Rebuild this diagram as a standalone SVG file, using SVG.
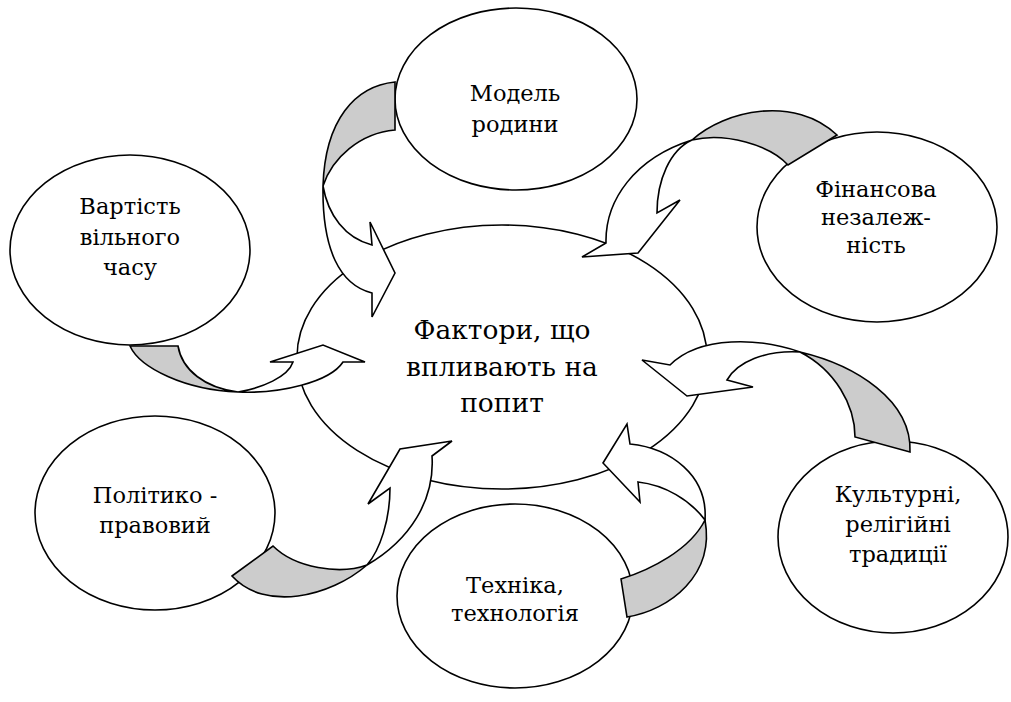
<svg xmlns="http://www.w3.org/2000/svg" width="1011" height="702" viewBox="0 0 1011 702">
<style>
.node ellipse{fill:#fff;stroke:#000;stroke-width:1.6}
text{font-family:'DejaVu Serif','Liberation Serif',serif;font-size:22.5px;fill:#000;text-anchor:middle}
.tc{font-size:26.5px}
.back{fill:#cccccc;stroke:#000;stroke-width:1.6;stroke-linejoin:miter}
.front{fill:#fff;stroke:#000;stroke-width:1.6;stroke-linejoin:miter}
</style>
<rect width="1011" height="702" fill="#fff"/>
<g id="center" class="node">
<ellipse cx="502" cy="357" rx="205" ry="132"/>
<text class="tc" x="502" y="339">Фактори, що</text>
<text class="tc" x="502" y="376">впливають на</text>
<text class="tc" x="502" y="412">попит</text>
</g>
<g id="model" class="node">
<ellipse cx="516" cy="99" rx="121" ry="91"/>
<text x="515" y="101">Модель</text>
<text x="515" y="132">родини</text>
</g>
<g id="vartist" class="node">
<ellipse cx="130" cy="250" rx="120" ry="95"/>
<text x="130" y="214">Вартість</text>
<text x="130" y="245">вільного</text>
<text x="130" y="275">часу</text>
</g>
<g id="finansova" class="node">
<ellipse cx="877" cy="227" rx="120" ry="95"/>
<text x="876" y="197">Фінансова</text>
<text x="876" y="225">незалеж-</text>
<text x="876" y="253">ність</text>
</g>
<g id="kulturni" class="node">
<ellipse cx="893" cy="537" rx="115" ry="96"/>
<text x="898" y="502">Культурні,</text>
<text x="898" y="532">релігійні</text>
<text x="898" y="562">традиції</text>
</g>
<g id="polityko" class="node">
<ellipse cx="155" cy="513" rx="120" ry="97"/>
<text x="155" y="503">Політико -</text>
<text x="155" y="533">правовий</text>
</g>
<g id="tekhnika" class="node">
<ellipse cx="515" cy="596" rx="118" ry="92"/>
<text x="515" y="593">Техніка,</text>
<text x="515" y="621">технологія</text>
</g>
<g id="connectors">
<g id="arrow-model">
<path class="back" d="M395,82 C355,86 325,120 323,186 C332,158 360,133 395,130 Z"/>
<path class="front" d="M323,186 C328,215 345,238 372,245 L370,222 L395,273 L372,317 L372,293 C340,285 322,250 323,186 Z"/>
</g>
<g id="arrow-finansova">
<path class="back" d="M692,140 C725,110 795,95 837,135 L788,165 C770,145 725,132 692,140 Z"/>
<path class="front" d="M692,140 C670,150 657,180 657,213 L680,200 L638,253 L582,257 L606,243 C605,200 635,158 692,140 Z"/>
</g>
<g id="arrow-vartist">
<path class="back" d="M130,346 L178,346 C182,370 205,388 238,392 C185,390 140,368 130,346 Z"/>
<path class="front" d="M238,392 C262,388 288,377 293,362 L270,362 L323,345 L365,362 L343,362 C330,382 280,394 238,392 Z"/>
</g>
<g id="arrow-kulturni">
<path class="back" d="M800,352 C855,365 912,400 910,452 L855,437 C855,405 835,370 800,352 Z"/>
<path class="front" d="M800,352 C765,350 737,362 727,380 L753,387 L687,396 L642,360 L670,365 C700,335 760,338 800,352 Z"/>
</g>
<g id="arrow-tekhnika">
<path class="back" d="M621,579 L627,617 C670,610 715,575 705,520 C690,550 650,570 621,579 Z"/>
<path class="front" d="M705,520 C690,500 665,485 638,482 L640,502 L603,463 L627,424 L630,444 C670,448 708,475 705,520 Z"/>
</g>
<g id="arrow-polityko">
<path class="back" d="M232,576 L273,546 C295,568 340,575 367,565 C330,597 265,612 232,576 Z"/>
<path class="front" d="M367,565 C380,550 390,520 390,488 L368,504 L400,449 L452,441 L432,456 C435,500 410,540 367,565 Z"/>
</g>
</g>
</svg>
